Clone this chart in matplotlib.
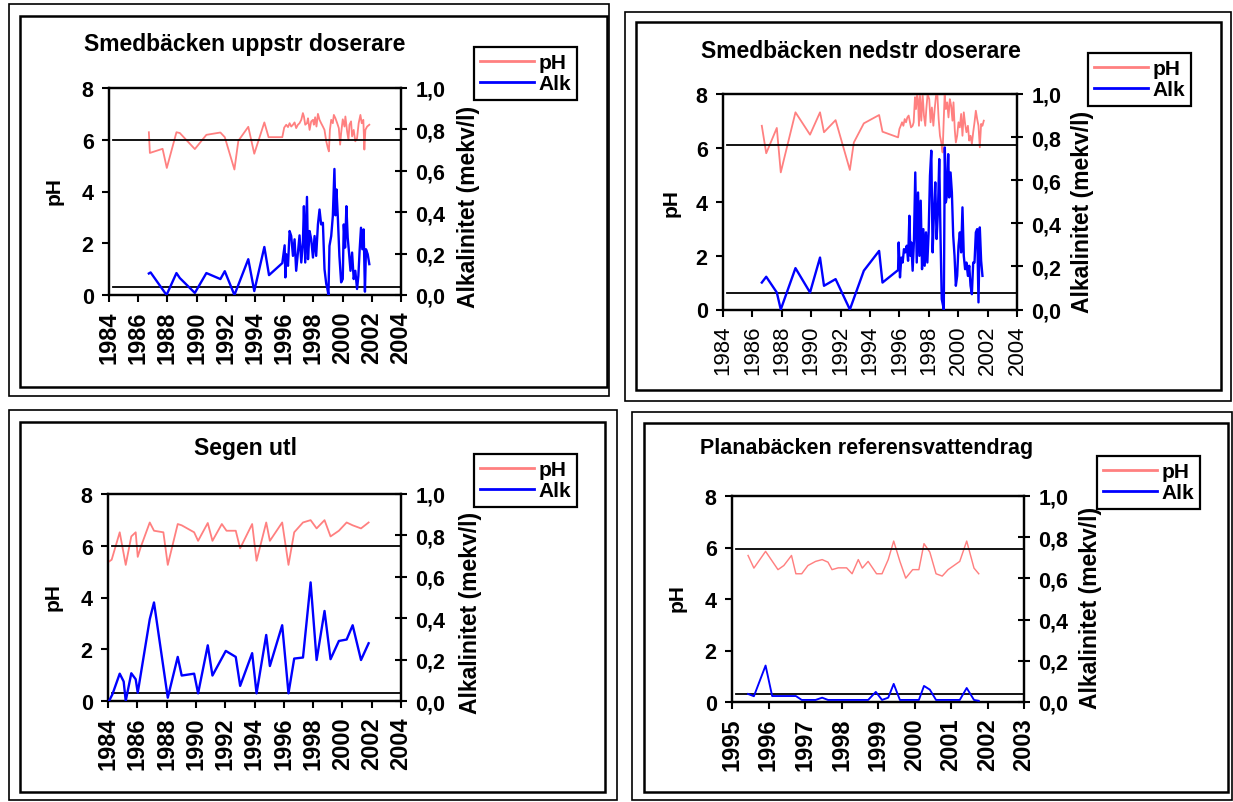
import matplotlib
matplotlib.use("Agg")
import matplotlib.pyplot as plt
from matplotlib.patches import Rectangle
from matplotlib.lines import Line2D

plt.rcParams['font.family'] = ['Liberation Sans', 'DejaVu Sans']

W, H = 1233, 803
RED = '#ff8080'
BLUE = '#0000ff'

# ---------------- data ----------------
titles = ["Smedbäcken uppstr doserare", "Smedbäcken nedstr doserare",
          "Segen utl", "Planabäcken referensvattendrag"]
series_labels = ["pH", "Alk"]
ph_ticks = [0, 2, 4, 6, 8]
alk_ticks = [0.0, 0.2, 0.4, 0.6, 0.8, 1.0]
alk_ticklabels = ["0,0", "0,2", "0,4", "0,6", "0,8", "1,0"]
years_long = [1984, 1986, 1988, 1990, 1992, 1994, 1996, 1998, 2000, 2002, 2004]
years_short = [1995, 1996, 1997, 1998, 1999, 2000, 2001, 2002, 2003]

# reference lines (pH units on left axis)
ref1 = [6.0, 0.3]
ref2 = [6.1, 0.6]
ref3 = [6.0, 0.3]
ref4 = [5.95, 0.3]

# Panel 1: Smedbäcken uppstr doserare
p1_ph_t = [1986.73, 1986.80, 1987.67, 1987.96, 1988.62, 1988.85, 1989.88, 1990.67, 1991.63, 1991.93,
           1992.59, 1992.86, 1993.54, 1993.95, 1994.64, 1994.93, 1995.87, 1996.00, 1996.14, 1996.26,
           1996.37, 1996.48, 1996.60, 1996.71, 1996.82, 1996.94, 1997.05, 1997.17, 1997.28, 1997.35,
           1997.44, 1997.56, 1997.63, 1997.74, 1997.85, 1997.97, 1998.03, 1998.12, 1998.21, 1998.31,
           1998.42, 1998.53, 1998.65, 1998.76, 1998.88, 1998.99, 1999.06, 1999.13, 1999.22, 1999.33,
           1999.40, 1999.51, 1999.63, 1999.74, 1999.83, 1999.90, 2000.01, 2000.13, 2000.19, 2000.31,
           2000.40, 2000.47, 2000.58, 2000.65, 2000.76, 2000.87, 2000.99, 2001.10, 2001.22, 2001.31,
           2001.42, 2001.49, 2001.56, 2001.68, 2001.83]
p1_ph = [6.29, 5.49, 5.65, 4.91, 6.29, 6.26, 5.64, 6.19, 6.28, 6.10,
         4.85, 5.96, 6.50, 5.46, 6.67, 6.10, 6.10, 6.47, 6.58, 6.49,
         6.64, 6.51, 6.58, 6.67, 6.45, 6.58, 6.64, 6.77, 7.03, 6.90,
         6.58, 6.64, 6.83, 6.38, 6.71, 6.77, 6.58, 6.87, 6.51, 7.00,
         6.77, 6.64, 6.51, 6.38, 5.94, 5.68, 5.55, 6.38, 6.77, 6.64,
         6.96, 6.83, 6.64, 6.45, 5.81, 6.26, 6.79, 6.51, 6.90, 6.32,
         6.00, 6.58, 6.71, 6.13, 6.38, 5.94, 6.06, 6.64, 6.96, 6.64,
         6.77, 5.62, 6.38, 6.51, 6.58]
p1_alk_t = [1986.73, 1986.85, 1987.94, 1988.62, 1988.85, 1989.88, 1990.67, 1991.63, 1991.93, 1992.59,
            1993.54, 1993.95, 1994.64, 1994.96, 1995.87, 1996.03, 1996.08, 1996.14, 1996.26, 1996.37,
            1996.48, 1996.60, 1996.71, 1996.82, 1996.94, 1997.05, 1997.17, 1997.28, 1997.35, 1997.44,
            1997.56, 1997.63, 1997.74, 1997.85, 1997.97, 1998.08, 1998.19, 1998.31, 1998.42, 1998.53,
            1998.65, 1998.76, 1998.88, 1998.94, 1999.03, 1999.10, 1999.22, 1999.33, 1999.44, 1999.51,
            1999.58, 1999.67, 1999.78, 1999.90, 2000.01, 2000.08, 2000.17, 2000.26, 2000.35, 2000.42,
            2000.54, 2000.65, 2000.76, 2000.87, 2000.99, 2001.08, 2001.17, 2001.26, 2001.35, 2001.44,
            2001.53, 2001.60, 2001.72, 2001.83]
p1_alk = [0.104, 0.109, 0.0, 0.106, 0.082, 0.01, 0.106, 0.077, 0.115, 0.0,
          0.173, 0.019, 0.232, 0.096, 0.154, 0.24, 0.085, 0.197, 0.141, 0.309,
          0.285, 0.189, 0.269, 0.117, 0.205, 0.288, 0.157, 0.253, 0.429, 0.157,
          0.474, 0.173, 0.309, 0.269, 0.181, 0.285, 0.189, 0.341, 0.413, 0.341,
          0.349, 0.125, 0.053, 0.037, 0.0, 0.237, 0.285, 0.381, 0.609, 0.385,
          0.51, 0.381, 0.189, 0.061, 0.077, 0.341, 0.229, 0.429, 0.277, 0.221,
          0.117, 0.205, 0.077, 0.117, 0.029, 0.093, 0.221, 0.325, 0.221, 0.317,
          0.016, 0.221, 0.197, 0.149]

# Panel 2: Smedbäcken nedstr doserare
p2_ph_t = [1986.64, 1986.94, 1987.66, 1987.93, 1988.93, 1989.92, 1990.60, 1990.87, 1991.66, 1992.63,
           1992.90, 1993.58, 1994.62, 1994.85, 1995.91,
           1996.00, 1996.09, 1996.18, 1996.27, 1996.36, 1996.45, 1996.54, 1996.63, 1996.72, 1996.79,
           1996.90, 1996.97, 1997.06, 1997.13, 1997.20, 1997.26, 1997.33, 1997.40, 1997.49, 1997.58,
           1997.67, 1997.76, 1997.83, 1997.92, 1998.03, 1998.12, 1998.21, 1998.31, 1998.40, 1998.49,
           1998.58, 1998.67, 1998.76, 1998.85, 1998.94, 1999.01, 1999.08, 1999.16, 1999.25, 1999.34,
           1999.43, 1999.52, 1999.61, 1999.68, 1999.77, 1999.84, 1999.93, 2000.02, 2000.11, 2000.20,
           2000.29, 2000.38, 2000.47, 2000.56, 2000.66, 2000.75, 2000.84, 2000.93, 2001.02, 2001.11,
           2001.20, 2001.29, 2001.38, 2001.47, 2001.56, 2001.65, 2001.74]
p2_ph = [6.82, 5.80, 6.74, 5.09, 7.32, 6.49, 7.32, 6.58, 7.03, 5.18,
         6.20, 6.91, 7.22, 6.60, 6.39,
         6.70, 6.82, 6.95, 6.82, 7.07, 6.95, 7.13, 7.20, 6.95, 6.76,
         6.82, 6.95, 7.88, 7.44, 8.0, 7.81, 6.82, 7.94, 7.01, 8.0,
         7.20, 6.82, 7.44, 8.0, 7.81, 6.95, 7.50, 6.82, 7.44, 7.94,
         8.0, 7.07, 6.45, 6.20, 5.83, 6.95, 8.0, 7.44, 7.69, 7.13,
         7.81, 7.57, 7.01, 7.69, 6.64, 6.20, 6.45, 6.95, 6.76, 7.26,
         6.45, 7.32, 6.89, 6.58, 6.82, 6.27, 6.45, 6.14, 6.58, 6.95,
         7.38, 7.07, 6.82, 6.02, 6.89, 6.82, 7.01]
p2_alk_t = [1986.64, 1986.94, 1987.66, 1987.93, 1988.93, 1989.92, 1990.60, 1990.87, 1991.66, 1992.63,
            1993.58, 1994.62, 1994.85, 1995.91,
            1995.95, 1996.04, 1996.13, 1996.22, 1996.31, 1996.40, 1996.50, 1996.59, 1996.68, 1996.75,
            1996.81, 1996.90, 1996.99, 1997.08, 1997.18, 1997.27, 1997.36, 1997.45, 1997.54, 1997.63,
            1997.72, 1997.81, 1997.90, 1997.99, 1998.08, 1998.17, 1998.26, 1998.35, 1998.44, 1998.53,
            1998.62, 1998.71, 1998.80, 1998.88, 1998.95, 1999.02, 1999.09, 1999.16, 1999.23, 1999.32,
            1999.39, 1999.48, 1999.57, 1999.66, 1999.75, 1999.84, 1999.93, 2000.02, 2000.11, 2000.20,
            2000.29, 2000.38, 2000.47, 2000.56, 2000.66, 2000.75, 2000.84, 2000.93, 2001.02, 2001.11,
            2001.20, 2001.29, 2001.38, 2001.47, 2001.56, 2001.65]
p2_alk = [0.125, 0.152, 0.079, 0.0, 0.192, 0.079, 0.241, 0.11, 0.141, 0.0,
          0.18, 0.272, 0.125, 0.183,
          0.311, 0.149, 0.241, 0.218, 0.28, 0.265, 0.296, 0.226, 0.435, 0.249,
          0.311, 0.18, 0.319, 0.636, 0.218, 0.543, 0.249, 0.505, 0.187, 0.373,
          0.203, 0.358, 0.218, 0.358, 0.621, 0.737, 0.265, 0.45, 0.59, 0.327,
          0.45, 0.698, 0.327, 0.048, 0.025, 0.0, 0.752, 0.497, 0.528, 0.721,
          0.52, 0.636, 0.543, 0.342, 0.249, 0.11, 0.156, 0.296, 0.358, 0.265,
          0.474, 0.249, 0.187, 0.218, 0.156, 0.203, 0.11, 0.071, 0.218, 0.218,
          0.358, 0.373, 0.033, 0.381, 0.226, 0.156]

# Panel 3: Segen utl
p3_ph_t = [1984.07, 1984.25, 1984.80, 1985.21, 1985.59, 1985.89, 1986.03, 1986.23, 1986.85, 1987.14,
           1987.78, 1988.08, 1988.76, 1989.03, 1989.88, 1990.15, 1990.81, 1991.13, 1991.77, 1992.09,
           1992.72, 1993.02, 1993.84, 1994.14, 1994.80, 1995.05, 1995.89, 1996.32, 1996.71, 1997.31,
           1997.83, 1998.24, 1998.78, 1999.19, 1999.76, 2000.29, 2000.70, 2001.27, 2001.79]
p3_ph = [5.39, 5.46, 6.52, 5.26, 6.36, 6.52, 5.57, 5.94, 6.90, 6.58,
         6.52, 5.26, 6.84, 6.79, 6.52, 6.19, 6.88, 6.19, 6.84, 6.58,
         6.58, 5.90, 6.84, 5.42, 6.90, 6.19, 6.90, 5.26, 6.52, 6.90,
         6.99, 6.67, 6.99, 6.36, 6.58, 6.90, 6.79, 6.67, 6.90]
p3_alk_t = [1984.07, 1984.30, 1984.80, 1985.07, 1985.21, 1985.59, 1985.89, 1986.03, 1986.85, 1987.14,
            1988.08, 1988.76, 1989.03, 1989.88, 1990.15, 1990.81, 1991.13, 1992.04, 1992.72, 1993.02,
            1993.84, 1994.14, 1994.80, 1995.05, 1995.89, 1996.32, 1996.71, 1997.31, 1997.83, 1998.24,
            1998.78, 1999.19, 1999.76, 2000.29, 2000.70, 2001.27, 2001.79]
p3_alk = [0.0, 0.032, 0.132, 0.094, 0.0, 0.134, 0.105, 0.04, 0.395, 0.476,
          0.016, 0.213, 0.123, 0.132, 0.037, 0.269, 0.123, 0.242, 0.213, 0.073,
          0.231, 0.037, 0.319, 0.169, 0.366, 0.037, 0.205, 0.21, 0.573, 0.198,
          0.435, 0.202, 0.29, 0.297, 0.366, 0.198, 0.279]

# Panel 4: Planabäcken referensvattendrag
p4_ph_t = [1995.44, 1995.60, 1995.92, 1996.26, 1996.42, 1996.63, 1996.75, 1996.91, 1997.08, 1997.29,
           1997.47, 1997.63, 1997.74, 1997.91, 1998.14, 1998.29, 1998.46, 1998.57, 1998.73, 1998.96,
           1999.11, 1999.28, 1999.43, 1999.60, 1999.76, 1999.95, 2000.12, 2000.26, 2000.42, 2000.59,
           2000.76, 2000.92, 2001.24, 2001.43, 2001.63, 2001.76]
p4_ph = [5.69, 5.20, 5.85, 5.14, 5.30, 5.69, 4.98, 4.98, 5.30, 5.46,
         5.53, 5.43, 5.14, 5.21, 5.21, 4.98, 5.53, 5.20, 5.46, 4.98,
         4.98, 5.53, 6.25, 5.46, 4.81, 5.14, 5.14, 6.15, 5.82, 4.98,
         4.89, 5.14, 5.46, 6.25, 5.20, 4.98]
p4_alk_t = [1995.44, 1995.60, 1995.92, 1996.10, 1996.75, 1996.91, 1997.29, 1997.47, 1997.63, 1998.73,
            1998.94, 1999.11, 1999.28, 1999.43, 1999.60, 2000.12, 2000.26, 2000.42, 2000.59, 2001.24,
            2001.43, 2001.63, 2001.76]
p4_alk = [0.039, 0.028, 0.177, 0.029, 0.029, 0.01, 0.01, 0.021, 0.01, 0.01,
          0.049, 0.01, 0.021, 0.088, 0.01, 0.01, 0.078, 0.06, 0.01, 0.01,
          0.068, 0.01, 0.006]

# ---------------- figure ----------------
fig = plt.figure(figsize=(W / 100, H / 100), dpi=100)


def fx(x):
    return x / W


def fy(y):
    return 1 - y / H


def frame(x0, y0, x1, y1, lw):
    fig.add_artist(Rectangle((fx(x0), fy(y1)), fx(x1) - fx(x0), fy(y0) - fy(y1),
                             transform=fig.transFigure, fill=False,
                             edgecolor='black', linewidth=lw))


# outer / inner frames of the four chart objects
frame(9, 5, 609, 397, 1.2)
frame(20, 17, 607, 388, 1.8)
frame(625, 13, 1231, 402, 1.2)
frame(636, 23, 1221, 391, 1.8)
frame(9, 411, 617, 801, 1.2)
frame(20, 423, 605, 793, 1.8)
frame(632, 413, 1232, 801, 1.2)
frame(644, 424, 1228, 793, 1.8)


def panel(box, xlim, xticks, ph_t, ph, alk_t, alk, refs, title, title_xy, title_fs,
          leg_xy, ph_xy, alk_xy, xlab_weight, xlab_fs, lw_scale=1.0):
    x0, y0, x1, y1 = box
    ax = fig.add_axes([fx(x0), fy(y1), fx(x1) - fx(x0), fy(y0) - fy(y1)])
    ax2 = ax.twinx()
    ax.set_xlim(*xlim)
    ax.set_ylim(0, 8)
    ax2.set_ylim(0, 1.0)
    ax.plot(ph_t, ph, color=RED, lw=1.3 * lw_scale, zorder=3)
    ax2.plot(alk_t, alk, color=BLUE, lw=1.7 * lw_scale, zorder=3)
    for r in refs:
        ax.axhline(r, xmin=0.015, xmax=1.0, color='black', lw=1.3, zorder=4, clip_on=False)
    ax.set_xticks(xticks)
    ax.set_xticklabels([str(v) for v in xticks], rotation=90,
                       fontsize=xlab_fs, fontweight=xlab_weight)
    ax.set_yticks(ph_ticks)
    ax.set_yticklabels([str(v) for v in ph_ticks], fontsize=15.5, fontweight='bold')
    ax2.set_yticks(alk_ticks)
    ax2.set_yticklabels(alk_ticklabels, fontsize=15.5, fontweight='bold')
    ax.tick_params(axis='x', direction='out', length=5, width=1.5, pad=6)
    ax.tick_params(axis='y', direction='out', length=5, width=1.5, pad=6)
    ax2.tick_params(axis='y', direction='inout', length=9, width=1.5, pad=6)
    for a in (ax, ax2):
        for s in a.spines.values():
            s.set_linewidth(1.6)
    fig.text(fx(title_xy[0]), fy(title_xy[1]), title, ha='center', va='center',
             fontsize=title_fs, fontweight='bold')
    fig.text(fx(ph_xy[0]), fy(ph_xy[1]), "pH", ha='center', va='center',
             rotation=90, fontsize=15, fontweight='bold')
    fig.text(fx(alk_xy[0]), fy(alk_xy[1]), "Alkalinitet (mekv/l)", ha='center', va='center',
             rotation=90, fontsize=16.5, fontweight='bold')
    handles = [Line2D([], [], color=RED, lw=2), Line2D([], [], color=BLUE, lw=2)]
    leg = ax2.legend(handles, series_labels, loc='upper left',
                     bbox_to_anchor=(fx(leg_xy[0]), fy(leg_xy[1])),
                     bbox_transform=fig.transFigure, borderaxespad=0,
                     prop={'weight': 'bold', 'size': 15}, handlelength=2.6,
                     handletextpad=0.2, labelspacing=0.1, borderpad=0.3,
                     fancybox=False, framealpha=1, edgecolor='black')
    leg.get_frame().set_linewidth(1.6)
    return ax, ax2


panel((109, 89, 401, 296), (1984, 2004), years_long, p1_ph_t, p1_ph, p1_alk_t, p1_alk, ref1,
      titles[0], (245, 44), 16.5, (474, 48), (54, 191), (468, 207), 'bold', 17)
panel((723, 95, 1017, 310.5), (1984, 2004), years_long, p2_ph_t, p2_ph, p2_alk_t, p2_alk, ref2,
      titles[1], (861, 52), 16.5, (1088, 54), (671, 203), (1083, 212), 'normal', 16)
panel((108, 495, 401, 702), (1984, 2004), years_long, p3_ph_t, p3_ph, p3_alk_t, p3_alk, ref3,
      titles[2], (245, 449), 16.5, (474, 455), (53, 597), (470, 613), 'bold', 17)
panel((732, 497, 1024, 703), (1995, 2003), years_short, p4_ph_t, p4_ph, p4_alk_t, p4_alk, ref4,
      titles[3], (867, 449), 15.5, (1097, 457), (677, 598), (1090, 608), 'bold', 17, lw_scale=0.8)

fig.savefig("out.png", dpi=100, facecolor='white')
